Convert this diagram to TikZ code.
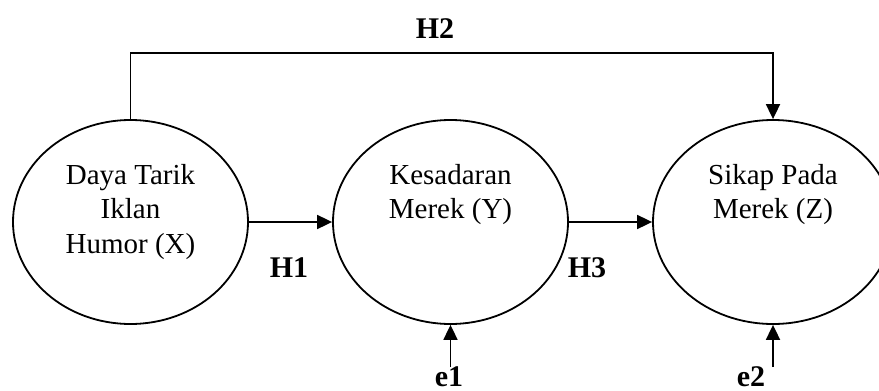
\documentclass[tikz,border=0pt]{standalone}
\usepackage{fontspec}
\setmainfont{Liberation Serif}
\usetikzlibrary{shapes.geometric,arrows.meta}

\tikzset{
  construct/.style={draw, ellipse, line width=1.8pt, inner sep=0pt,
    minimum width=235pt, minimum height=204pt},
  captext/.style={align=center, inner sep=0pt, anchor=north,
    font=\fontsize{29}{34.5}\selectfont},
  hyp/.style={inner sep=0pt, font=\fontsize{30}{34}\selectfont\bfseries},
  link/.style={line width=1.8pt, -{Triangle[length=15pt,width=14pt]}}
}

\begin{document}
\begin{tikzpicture}[x=1pt, y=-1pt]
  \useasboundingbox (0,0) rectangle (879,391);

  % latent variables
  \node[construct] (X) at (130.5,222) {};
  \node[construct] (Y) at (450.5,222) {};
  \node[construct, minimum width=240pt] (Z) at (773,222) {};

  \node[captext] (tX) at (130.5,164) {Daya Tarik\\Iklan\\Humor (X)};
  \node[captext] (tY) at (450.5,164) {Kesadaran\\Merek (Y)};
  \node[captext] (tZ) at (773,164) {Sikap Pada\\Merek (Z)};

  % hypothesis paths
  \coordinate (top) at (0,53);
  \draw[link] (X.north) -- (X.north |- top) -| (Z.north);
  \draw[link] (X.east) -- (Y.west);
  \draw[link] (Y.east) -- (Z.west);

  \node[hyp] (h2) at (435,29) {H2};
  \node[hyp] (h1) at (289,268) {H1};
  \node[hyp] (h3) at (587,268) {H3};

  % error terms
  \coordinate (etail) at (0,367);
  \draw[link] (Y.south |- etail) -- (Y.south);
  \draw[link] (Z.south |- etail) -- (Z.south);
  \node[hyp, anchor=north] (e1) at (449,366) {e1};
  \node[hyp, anchor=north] (e2) at (751,366) {e2};
\end{tikzpicture}
\end{document}
